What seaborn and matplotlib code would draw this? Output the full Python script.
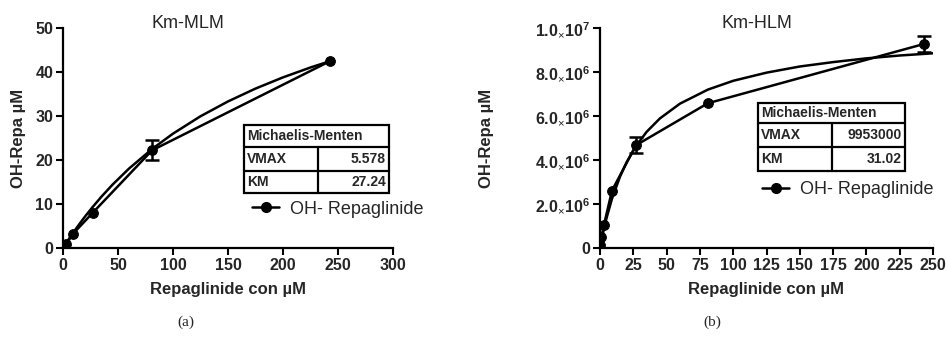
import matplotlib
matplotlib.use("Agg")
import matplotlib.pyplot as plt
import seaborn as sns
import numpy as np
import pandas as pd
from matplotlib.patches import Rectangle
from matplotlib.lines import Line2D
from matplotlib.ticker import FuncFormatter

# ---------------- data ----------------
conc = [0.33, 1, 3, 9, 27, 81, 243]

mlm_y = [0.1, 0.3, 0.9, 3.2, 8.0, 22.2, 42.5]
mlm_err = [0, 0, 0, 0, 0, 2.3, 0]
mlm_fit_x = [0, 1, 3, 5, 9, 15, 20, 27, 35, 45, 60, 81, 100, 125, 150, 175, 200, 225, 243]
mlm_fit_y = [0, 0.39, 1.16, 1.92, 3.39, 5.48, 7.14, 9.33, 11.68, 14.39, 18.05, 22.5,
             25.99, 29.94, 33.31, 36.23, 38.78, 41.03, 42.48]

hlm_y = [0.15e6, 0.48e6, 1.06e6, 2.61e6, 4.67e6, 6.58e6, 9.27e6]
hlm_err = [0, 0, 0, 0, 0.37e6, 0, 0.36e6]
hlm_fit_x = [0, 1, 3, 5, 9, 15, 20, 27, 35, 45, 60, 81, 100, 125, 150, 175, 200, 225, 250]
hlm_fit_y = [0, 0.31e6, 0.88e6, 1.38e6, 2.24e6, 3.24e6, 3.90e6, 4.63e6, 5.28e6, 5.89e6,
             6.56e6, 7.20e6, 7.60e6, 7.97e6, 8.25e6, 8.45e6, 8.62e6, 8.75e6, 8.85e6]

mlm_table = [["VMAX", "5.578"], ["KM", "27.24"]]
hlm_table = [["VMAX", "9953000"], ["KM", "31.02"]]
series_name = "OH- Repaglinide"
titles = ["Km-MLM", "Km-HLM"]
xlabel = "Repaglinide con µM"
ylabel = "OH-Repa µM"
captions = ["(a)", "(b)"]

# ---------------- style ----------------
sns.set_theme(style="ticks")
plt.rcParams['font.family'] = ['Liberation Sans', 'DejaVu Sans']
plt.rcParams['mathtext.fontset'] = 'custom'
plt.rcParams['mathtext.rm'] = 'Liberation Sans'
plt.rcParams['mathtext.bf'] = 'Liberation Sans:bold'
plt.rcParams['mathtext.it'] = 'Liberation Sans:italic'

W, H = 946, 338
fig = plt.figure(figsize=(W / 100, H / 100), dpi=100)

def fx(px):
    return px / W

def fy(py):
    return 1 - py / H

axL = fig.add_axes([fx(63), fy(248), fx(393) - fx(63), fy(28) - fy(248)])
axR = fig.add_axes([fx(600), fy(248), fx(933) - fx(600), fy(28) - fy(248)])

def style_axes(ax):
    sns.despine(ax=ax)
    for s in ["left", "bottom"]:
        ax.spines[s].set_linewidth(1.6)
        ax.spines[s].set_color("black")
    ax.tick_params(axis="both", direction="out", length=5, width=1.5, color="black",
                   labelsize=11.5, pad=2)
    for lab in ax.get_xticklabels() + ax.get_yticklabels():
        lab.set_fontweight("bold")
    ax.set_facecolor("none")

def draw_series(ax, y, err, fx_, fy_):
    df = pd.DataFrame({"x": conc, "y": y})
    dfit = pd.DataFrame({"x": fx_, "y": fy_})
    sns.lineplot(data=dfit, x="x", y="y", ax=ax, color="black", lw=1.8, sort=False,
                 legend=False)
    sns.lineplot(data=df, x="x", y="y", ax=ax, color="black", lw=1.8, marker="o",
                 markersize=7, markeredgecolor="black", sort=False, legend=False)
    xe = [c for c, e in zip(conc, err) if e > 0]
    ye = [v for v, e in zip(y, err) if e > 0]
    ee = [e for e in err if e > 0]
    ax.errorbar(xe, ye, yerr=ee, fmt="none", ecolor="black", elinewidth=1.8,
                capsize=5, capthick=1.8)

# left
draw_series(axL, mlm_y, mlm_err, mlm_fit_x, mlm_fit_y)
axL.set_xlim(0, 300)
axL.set_ylim(0, 50)
axL.set_xticks(range(0, 301, 50))
axL.set_yticks(range(0, 51, 10))

# right
draw_series(axR, hlm_y, hlm_err, hlm_fit_x, hlm_fit_y)
axR.set_xlim(0, 250)
axR.set_ylim(0, 1e7)
axR.set_xticks(range(0, 251, 25))
axR.set_yticks(np.arange(0, 1.0e7 + 1, 2e6))

def sci_fmt(v, pos):
    if v == 0:
        return "0"
    exp = int(np.floor(np.log10(v)))
    mant = v / 10 ** exp
    return r"$\mathbf{%.1f}_{\times}\mathbf{10}^{\mathbf{%d}}$" % (mant, exp)

axR.yaxis.set_major_formatter(FuncFormatter(sci_fmt))

for ax in (axL, axR):
    ax.set_xlabel(xlabel, fontsize=12, fontweight="bold")
    ax.set_ylabel(ylabel, fontsize=12, fontweight="bold")
    style_axes(ax)

axL.yaxis.set_label_coords(-0.112, 0.5)
axR.yaxis.set_label_coords(-0.318, 0.5)
axL.xaxis.set_label_coords(0.5, -0.155)
axR.xaxis.set_label_coords(0.5, -0.155)

# titles
fig.text(fx(188), fy(24), titles[0], fontsize=13, ha="center", va="center")
fig.text(fx(757), fy(24), titles[1], fontsize=13, ha="center", va="center")

# tables
def draw_table(x0, x1, xd, ys, rows):
    lw = 1.6
    fig.add_artist(Rectangle((fx(x0), fy(ys[3])), fx(x1) - fx(x0), fy(ys[0]) - fy(ys[3]),
                             transform=fig.transFigure, fill=False, lw=lw, ec="black"))
    for yy in (ys[1], ys[2]):
        fig.add_artist(Line2D([fx(x0), fx(x1)], [fy(yy), fy(yy)], transform=fig.transFigure,
                              lw=lw, color="black"))
    fig.add_artist(Line2D([fx(xd), fx(xd)], [fy(ys[1]), fy(ys[3])], transform=fig.transFigure,
                          lw=lw, color="black"))
    fig.text(fx(x0 + 3), fy((ys[0] + ys[1]) / 2), "Michaelis-Menten", fontsize=10,
             fontweight="bold", ha="left", va="center")
    for i, (k, v) in enumerate(rows):
        yc = (ys[i + 1] + ys[i + 2]) / 2
        fig.text(fx(x0 + 3), fy(yc), k, fontsize=10, fontweight="bold", ha="left", va="center")
        fig.text(fx(x1 - 3), fy(yc), v, fontsize=10, fontweight="bold", ha="right", va="center")

draw_table(244, 389, 318, [125, 147, 171, 193], mlm_table)
draw_table(758, 905, 832, [103, 123, 147, 171], hlm_table)

# legends
def draw_legend(ax, x, y):
    h = Line2D([], [], color="black", lw=1.8, marker="o", markersize=7)
    fig.legend([h], [series_name], loc="center left", bbox_to_anchor=(fx(x), fy(y)),
               bbox_transform=fig.transFigure, frameon=False, fontsize=13,
               handlelength=1.5, handletextpad=0.6, borderpad=0, borderaxespad=0)

draw_legend(axL, 252, 209)
draw_legend(axR, 762, 190)

# captions
fig.text(fx(186), fy(322), captions[0], fontsize=11, family="Liberation Serif",
         ha="center", va="center")
fig.text(fx(712), fy(322), captions[1], fontsize=11, family="Liberation Serif",
         ha="center", va="center")

fig.savefig("out.png", dpi=100)
